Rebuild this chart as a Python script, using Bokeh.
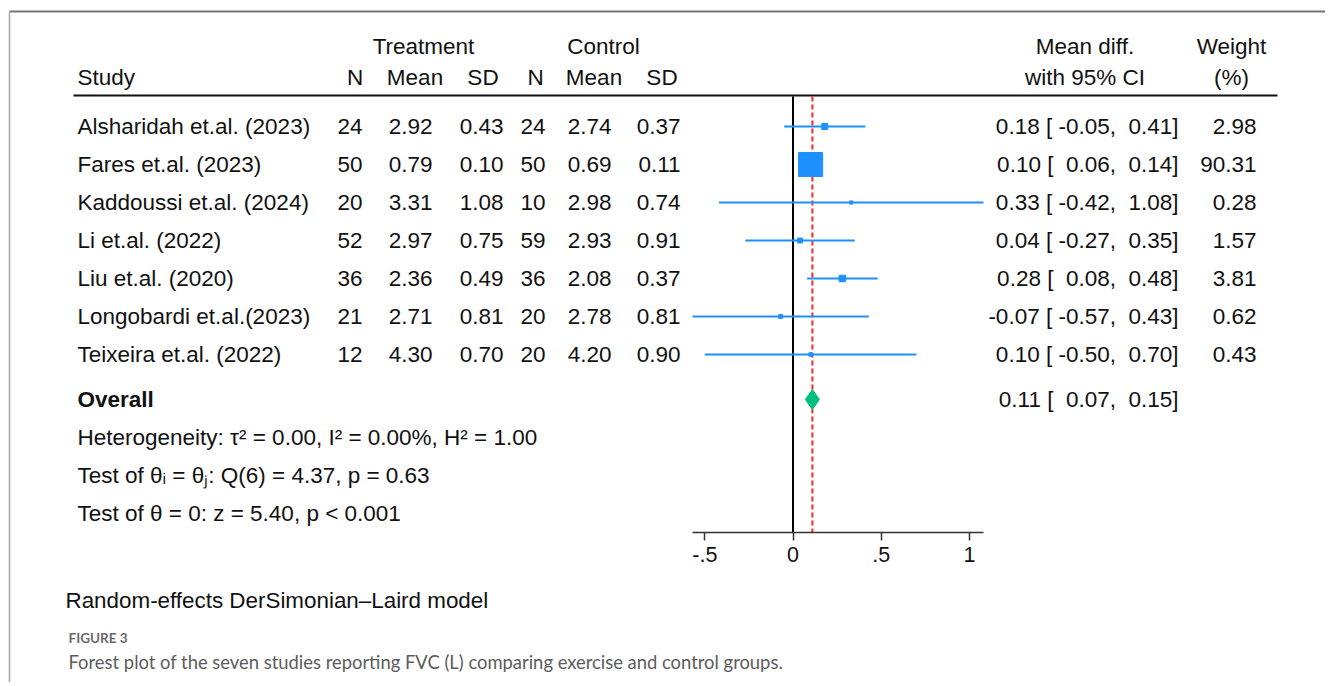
import math
from bokeh.plotting import figure
from bokeh.models import Range1d, LinearAxis, FixedTicker, ColumnDataSource
from bokeh.core.properties import value
from bokeh.embed import file_html
from bokeh.resources import INLINE

# ---------------- data ----------------
studies = ["Alsharidah et.al. (2023)", "Fares et.al. (2023)", "Kaddoussi et.al. (2024)",
           "Li et.al. (2022)", "Liu et.al. (2020)", "Longobardi et.al.(2023)", "Teixeira et.al. (2022)"]
n_t = [24, 50, 20, 52, 36, 21, 12]
mean_t = [2.92, 0.79, 3.31, 2.97, 2.36, 2.71, 4.30]
sd_t = [0.43, 0.10, 1.08, 0.75, 0.49, 0.81, 0.70]
n_c = [24, 50, 10, 59, 36, 20, 20]
mean_c = [2.74, 0.69, 2.98, 2.93, 2.08, 2.78, 4.20]
sd_c = [0.37, 0.11, 0.74, 0.91, 0.37, 0.81, 0.90]
md = [0.18, 0.10, 0.33, 0.04, 0.28, -0.07, 0.10]
ci_lo = [-0.05, 0.06, -0.42, -0.27, 0.08, -0.57, -0.50]
ci_hi = [0.41, 0.14, 1.08, 0.35, 0.48, 0.43, 0.70]
weights = [2.98, 90.31, 0.28, 1.57, 3.81, 0.62, 0.43]
overall_md, overall_lo, overall_hi = 0.11, 0.07, 0.15
x_ticks = [-0.5, 0, 0.5, 1]
x_tick_labels = ["-.5", "0", ".5", "1"]
het_text = "Heterogeneity: \u03c4\u00b2 = 0.00, I\u00b2 = 0.00%, H\u00b2 = 1.00"
test1_text = "Test of \u03b8\u1d62 = \u03b8\u2c7c: Q(6) = 4.37, p = 0.63"
test2_text = "Test of \u03b8 = 0: z = 5.40, p < 0.001"
model_text = "Random-effects DerSimonian\u2013Laird model"
fig_label = "FIGURE 3"
caption = "Forest plot of the seven studies reporting FVC (L) comparing exercise and control groups."

# ---------------- layout ----------------
W, H = 1325, 682
ZERO_PX, PX_PER_UNIT = 792.5, 176.4
FONT = "Liberation Sans"
FS = "22.5px"
NB = "\u00a0"

p = figure(width=W, height=H, output_backend="svg", toolbar_location=None,
           x_range=Range1d(0, W), y_range=Range1d(H, 0),
           x_axis_type=None, y_axis_type=None, min_border=0)
p.outline_line_color = None
p.xgrid.visible = False
p.ygrid.visible = False
p.extra_x_ranges = {"fx": Range1d((0 - ZERO_PX) / PX_PER_UNIT, (W - ZERO_PX) / PX_PER_UNIT)}

row_y = [126 + 38 * i for i in range(len(studies))]
y_over = 399
y_top_line = 95
y_axis = 532


def txt(xs, ys, texts, align="left", size=FS, bold=False, color="#111111", font=FONT):
    src = ColumnDataSource(dict(x=xs, y=ys, t=texts))
    p.text(x="x", y="y", text="t", source=src, text_align=align, text_baseline="middle",
           text_font=value(font), text_font_size=size,
           text_font_style="bold" if bold else "normal", text_color=color)


def ci_fmt(m, lo, hi):
    return f"{m:.2f} [{lo:6.2f}, {hi:5.2f}]".replace(" ", NB)


# frame lines of the figure page
p.segment(x0=[9], y0=[11], x1=[W], y1=[11], line_color="#74747c", line_width=2)
p.segment(x0=[9], y0=[11], x1=[9], y1=[H], line_color="#a8a8ae", line_width=1.5)

# headers
txt([423, 603], [46, 46], ["Treatment", "Control"], align="center")
txt([77], [77], ["Study"])
txt([354.5, 414.5, 482.5, 535, 593.5, 661.5], [77] * 6, ["N", "Mean", "SD", "N", "Mean", "SD"], align="center")
txt([1084.5, 1084.5, 1231, 1231], [46, 77, 46, 77], ["Mean diff.", "with 95% CI", "Weight", "(%)"], align="center")
p.segment(x0=[73], y0=[y_top_line], x1=[1277], y1=[y_top_line], line_color="#111111", line_width=2)

# study rows
txt([77] * len(studies), row_y, studies)
cols = [(362, [str(v) for v in n_t]), (432, [f"{v:.2f}" for v in mean_t]), (503, [f"{v:.2f}" for v in sd_t]),
        (545, [str(v) for v in n_c]), (611, [f"{v:.2f}" for v in mean_c]), (680, [f"{v:.2f}" for v in sd_c])]
for xr, vals in cols:
    txt([xr] * len(vals), row_y, vals, align="right")
ci_txt = [ci_fmt(m, lo, hi) for m, lo, hi in zip(md, ci_lo, ci_hi)]
txt([1178] * len(ci_txt), row_y, ci_txt, align="right")
txt([1256] * len(weights), row_y, [f"{w:.2f}" for w in weights], align="right")

# overall
txt([77], [y_over], ["Overall"], bold=True)
txt([1178], [y_over], [ci_fmt(overall_md, overall_lo, overall_hi)], align="right")
txt([77, 77, 77], [437, 475, 513], [het_text, test1_text, test2_text])

# bottom texts
txt([65], [600], [model_text], size="22.4px")
txt([68], [637], [fig_label], size="13.5px", bold=True, color="#6a6a6a", font="Lato")
txt([68], [661], [caption], size="18.4px", color="#5c5c5c", font="Lato")

# forest plot
p.segment(x0=[0], y0=[y_top_line + 1], x1=[0], y1=[y_axis], x_range_name="fx",
          line_color="black", line_width=2)
p.segment(x0=[overall_md], y0=[y_top_line + 1], x1=[overall_md], y1=[y_axis], x_range_name="fx",
          line_color="#ff2424", line_width=2, line_dash="5 3")
p.segment(x0=ci_lo, y0=row_y, x1=ci_hi, y1=row_y, x_range_name="fx",
          line_color="#1e90ff", line_width=2)
sizes = [2 + 2.32 * math.sqrt(w) for w in weights]
p.scatter(x=md, y=row_y, size=sizes, marker="square", x_range_name="fx",
          fill_color="#1e90ff", line_color="#1e90ff", line_width=1)
p.patches(xs=[[overall_lo, overall_md, overall_hi, overall_md]],
          ys=[[y_over, y_over - 10, y_over, y_over + 10]], x_range_name="fx",
          fill_color="#00bf7f", line_color="#00bf7f", line_width=1)

ax = LinearAxis(x_range_name="fx", ticker=FixedTicker(ticks=x_ticks),
                bounds=(min(ci_lo), max(ci_hi)), fixed_location=y_axis)
ax.major_label_overrides = {t: l for t, l in zip(x_ticks, x_tick_labels)}
ax.axis_line_color = "#333333"
ax.axis_line_width = 1.5
ax.major_tick_line_color = "#333333"
ax.major_tick_line_width = 1.5
ax.major_tick_out = 8
ax.major_tick_in = 0
ax.minor_tick_line_color = None
ax.major_label_text_font = FONT
ax.major_label_text_font_size = "21.5px"
ax.major_label_text_color = "#111111"
ax.major_label_standoff = 6
p.add_layout(ax, "below")

open("out.html", "w").write(file_html(p, INLINE))
